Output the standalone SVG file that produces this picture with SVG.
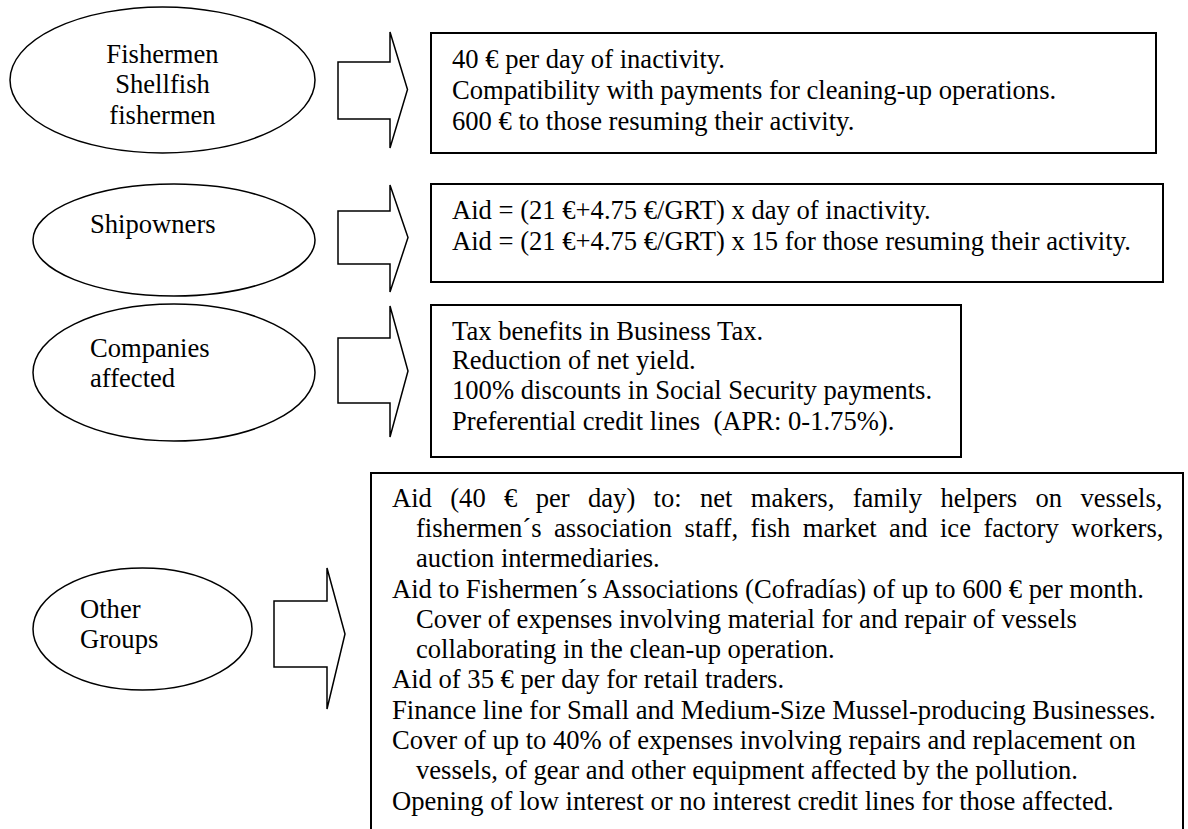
<svg xmlns="http://www.w3.org/2000/svg" width="1188" height="829" viewBox="0 0 1188 829">
<style>
  text { font-family: "Liberation Serif", "Times New Roman", serif; font-size: 26.6px; fill: #000; }
  .ell { fill: #fff; stroke: #000; stroke-width: 1.5; }
  .box { fill: #fff; stroke: #000; stroke-width: 2; }
  .arr { fill: #fff; stroke: #000; stroke-width: 1.5; stroke-linejoin: miter; }
  .mid { text-anchor: middle; }
</style>
<rect width="1188" height="829" fill="#fff"/>

<g id="connectors">
  <polygon class="arr" points="338,62 390,62 390,32 407.5,89.5 390,148 390,119 338,119"/>
  <polygon class="arr" points="338,211 390,211 390,185 408,237.5 390,292 390,264 338,264"/>
  <polygon class="arr" points="338,338 390,338 390,306 408,371 390,437 390,403 338,403"/>
  <polygon class="arr" points="274,601 327,601 327,568 345,634 327,709 327,667 274,667"/>
</g>

<g id="node-fishermen">
  <ellipse class="ell" cx="162.5" cy="80" rx="152.5" ry="73"/>
  <text class="mid" x="162.5" y="63">Fishermen</text>
  <text class="mid" x="162.5" y="93">Shellfish</text>
  <text class="mid" x="162.5" y="124">fishermen</text>
</g>

<g id="node-shipowners">
  <ellipse class="ell" cx="174" cy="240" rx="141" ry="56"/>
  <text x="90" y="233">Shipowners</text>
</g>

<g id="node-companies">
  <ellipse class="ell" cx="174" cy="372.5" rx="141" ry="68.5"/>
  <text x="90" y="357">Companies</text>
  <text x="90" y="387">affected</text>
</g>

<g id="node-other">
  <ellipse class="ell" cx="142.5" cy="629" rx="109.5" ry="61"/>
  <text x="80" y="618">Other</text>
  <text x="80" y="648">Groups</text>
</g>

<g id="box-fishermen">
  <rect class="box" x="431" y="33" width="725" height="120"/>
  <text x="452" y="68">40 € per day of inactivity.</text>
  <text x="452" y="99">Compatibility with payments for cleaning-up operations.</text>
  <text x="452" y="130">600 € to those resuming their activity.</text>
</g>

<g id="box-shipowners">
  <rect class="box" x="431" y="184" width="732" height="98"/>
  <text x="452" y="219">Aid = (21 €+4.75 €/GRT) x day of inactivity.</text>
  <text x="452" y="250">Aid = (21 €+4.75 €/GRT) x 15 for those resuming their activity.</text>
</g>

<g id="box-companies">
  <rect class="box" x="431" y="305" width="530" height="152"/>
  <text x="452" y="340">Tax benefits in Business Tax.</text>
  <text x="452" y="369">Reduction of net yield.</text>
  <text x="452" y="399">100% discounts in Social Security payments.</text>
  <text x="452" y="430" xml:space="preserve">Preferential credit lines  (APR: 0-1.75%).</text>
</g>

<g id="box-other">
  <rect class="box" x="371" y="473" width="812" height="380"/>
  <text x="392" y="507" word-spacing="11.7">Aid (40 € per day) to: net makers, family helpers on vessels,</text>
  <text x="416" y="537" word-spacing="5.8">fishermen´s association staff, fish market and ice factory workers,</text>
  <text x="416" y="567">auction intermediaries.</text>
  <text x="392" y="598">Aid to Fishermen´s Associations (Cofradías) of up to 600 € per month.</text>
  <text x="416" y="628">Cover of expenses involving material for and repair of vessels</text>
  <text x="416" y="658">collaborating in the clean-up operation.</text>
  <text x="392" y="688">Aid of 35 € per day for retail traders.</text>
  <text x="392" y="719">Finance line for Small and Medium-Size Mussel-producing Businesses.</text>
  <text x="392" y="749">Cover of up to 40% of expenses involving repairs and replacement on</text>
  <text x="416" y="779">vessels, of gear and other equipment affected by the pollution.</text>
  <text x="392" y="810">Opening of low interest or no interest credit lines for those affected.</text>
</g>
</svg>
